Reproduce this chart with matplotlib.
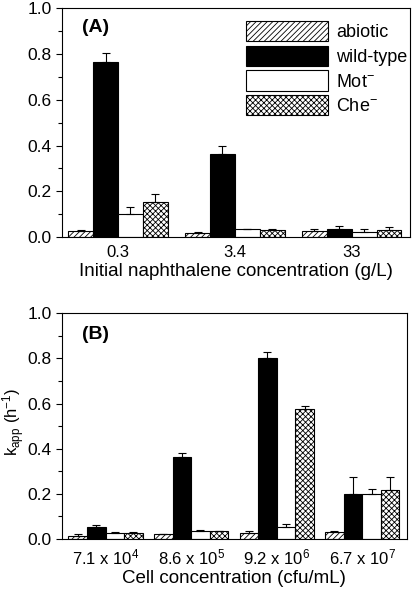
import matplotlib
matplotlib.use("Agg")
import matplotlib.pyplot as plt
import numpy as np

plt.rcParams['font.family'] = ['Liberation Sans', 'DejaVu Sans']
plt.rcParams['hatch.linewidth'] = 0.6

# Panel A data
conc_labels = ['0.3', '3.4', '33']
a_abiotic = [0.025, 0.018, 0.028]
a_abiotic_err = [0.007, 0.002, 0.007]
a_wild = [0.767, 0.364, 0.034]
a_wild_err = [0.039, 0.032, 0.014]
a_mot = [0.100, 0.035, 0.022]
a_mot_err = [0.030, 0.002, 0.012]
a_che = [0.154, 0.032, 0.031]
a_che_err = [0.036, 0.002, 0.012]

# Panel B data
cell_labels = [r'7.1 x 10$\mathregular{^{4}}$', r'8.6 x 10$\mathregular{^{5}}$',
               r'9.2 x 10$\mathregular{^{6}}$', r'6.7 x 10$\mathregular{^{7}}$']
b_abiotic = [0.015, 0.020, 0.025, 0.030]
b_abiotic_err = [0.007, 0.002, 0.012, 0.004]
b_wild = [0.052, 0.365, 0.800, 0.199]
b_wild_err = [0.010, 0.015, 0.027, 0.074]
b_mot = [0.027, 0.034, 0.055, 0.200]
b_mot_err = [0.002, 0.006, 0.011, 0.023]
b_che = [0.027, 0.035, 0.577, 0.218]
b_che_err = [0.002, 0.002, 0.014, 0.055]

names = ['abiotic', 'wild-type', r'Mot$\mathregular{^{-}}$', r'Che$\mathregular{^{-}}$']
faces = ['white', 'black', 'white', 'white']
hatches = ['//////', None, None, 'xxxxxx']

fig = plt.figure(figsize=(4.13, 5.91), dpi=100)
axA = fig.add_axes([0.150, 0.599, 0.843, 0.387])
axB = fig.add_axes([0.150, 0.088, 0.835, 0.382])


def draw(ax, labels, series, errs, w):
    n = len(labels)
    x = np.arange(n)
    handles = []
    for i, (vals, err) in enumerate(zip(series, errs)):
        pos = x + (i - 1.5) * w
        h = ax.bar(pos, vals, w, color=faces[i], edgecolor='black',
                   hatch=hatches[i], linewidth=0.8, label=names[i], zorder=2)
        ax.errorbar(pos, vals, yerr=[np.zeros(n), err], fmt='none',
                    ecolor='black', elinewidth=0.8, capsize=3, capthick=0.8, zorder=3)
        handles.append(h)
    ax.set_xticks(x)
    ax.set_xticklabels(labels, fontsize=12)
    ax.tick_params(axis='x', length=0, pad=6)
    ax.set_ylim(0, 1.0)
    ax.set_yticks(np.arange(0, 1.01, 0.2))
    ax.set_yticks(np.arange(0.1, 1.0, 0.2), minor=True)
    ax.set_yticklabels(['%.1f' % v for v in np.arange(0, 1.01, 0.2)], fontsize=12.5)
    ax.tick_params(axis='y', direction='out', length=4, width=0.8)
    ax.tick_params(axis='y', which='minor', direction='out', length=3, width=0.8)
    for s in ax.spines.values():
        s.set_linewidth(0.8)
    return handles


hA = draw(axA, conc_labels, [a_abiotic, a_wild, a_mot, a_che],
          [a_abiotic_err, a_wild_err, a_mot_err, a_che_err], 0.213)
axA.set_xlim(-0.48, 2.50)
axA.set_xlabel('Initial naphthalene concentration (g/L)', fontsize=13.5, labelpad=2)
axA.text(0.058, 0.955, '(A)', transform=axA.transAxes, fontsize=14,
         fontweight='bold', va='top')
axA.legend(handles=hA, loc='upper left', bbox_to_anchor=(0.53, 0.945),
           frameon=False, fontsize=13, handlelength=4.5, handleheight=1.35,
           handletextpad=0.45, labelspacing=0.25, borderpad=0, borderaxespad=0)

draw(axB, cell_labels, [b_abiotic, b_wild, b_mot, b_che],
     [b_abiotic_err, b_wild_err, b_mot_err, b_che_err], 0.217)
axB.set_xlim(-0.51, 3.52)
axB.set_xlabel('Cell concentration (cfu/mL)', fontsize=13.5, labelpad=2)
axB.set_ylabel(r'k$_{\mathregular{app}}$ (h$\mathregular{^{-1}}$)', fontsize=12)
axB.yaxis.set_label_coords(-0.10, 0.52)
axB.text(0.058, 0.945, '(B)', transform=axB.transAxes, fontsize=14,
         fontweight='bold', va='top')

fig.savefig('out.png', dpi=100)
